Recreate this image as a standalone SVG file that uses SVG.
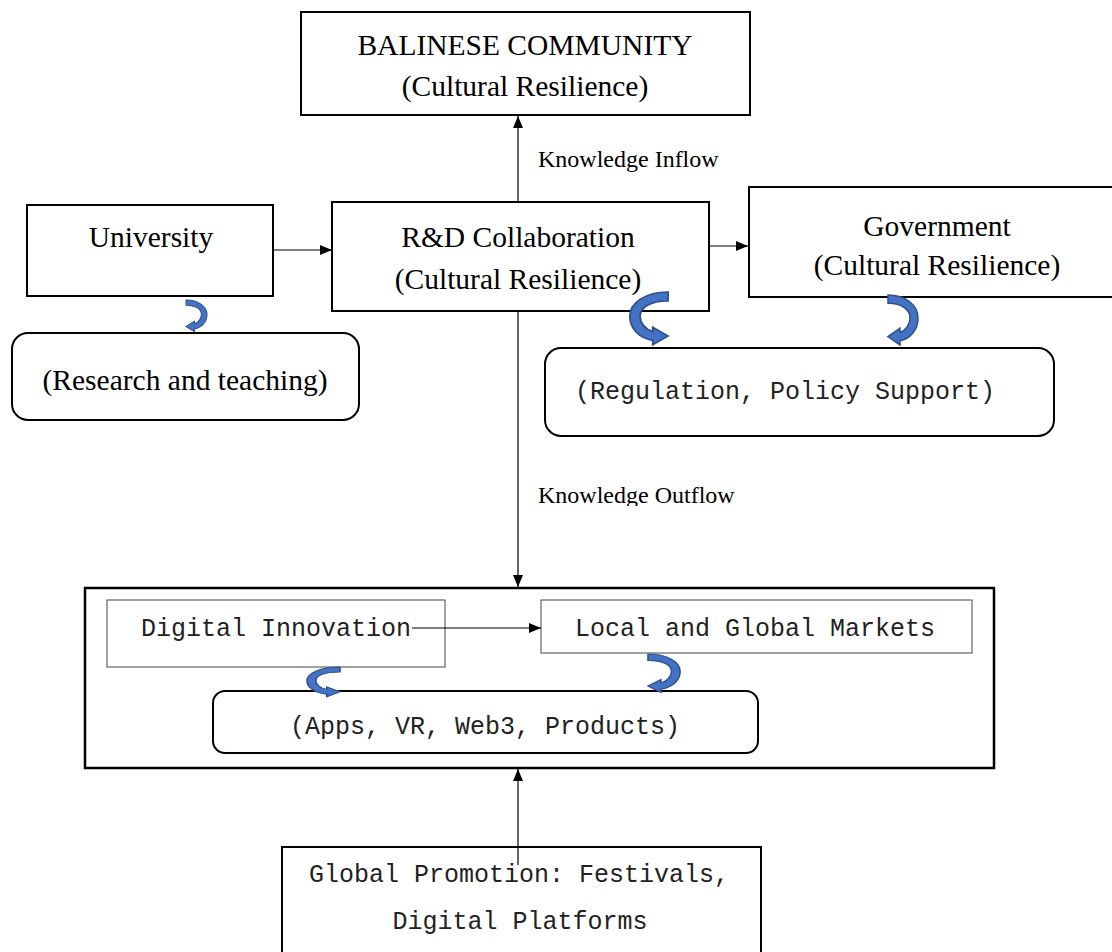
<svg xmlns="http://www.w3.org/2000/svg" width="1112" height="952" viewBox="0 0 1112 952">
<style>
.box{fill:#fff;stroke:#000;stroke-width:2}
.thin{fill:#fff;stroke:#444;stroke-width:1}
.big{fill:#fff;stroke:#000;stroke-width:2.5}
.serif{font-family:"Liberation Serif","Times New Roman",serif;fill:#000;text-anchor:middle;font-size:29.5px}
.mono{font-family:"Liberation Mono","Courier New",monospace;fill:#222;text-anchor:middle;font-size:25px}
.lbl{font-family:"Liberation Serif","Times New Roman",serif;fill:#000;font-size:24px}
.conn{stroke:#000;stroke-width:1.2;fill:none}
.curl{fill:#4472C4;stroke:#2F528F;stroke-width:1.5}
</style>
<defs>
<marker id="ah" viewBox="0 0 12 10" refX="12" refY="5" markerWidth="12" markerHeight="10" markerUnits="userSpaceOnUse" orient="auto">
<path d="M0 0 L12 5 L0 10 Z" fill="#000"/>
</marker>
<path id="curlshape" d="M0 0 C18 0 30 10 30 22 C30 34 22 42 12 44 L12 48 L0 40 L12 32 L12 36 C18 34 22 28 22 22 C22 14 14 8 0 8 Z"/>
<clipPath id="outclip"><rect x="530" y="470" width="240" height="36"/></clipPath>
</defs>

<g id="balinese">
<rect class="box" x="301" y="12" width="449" height="103"/>
<text class="serif" x="525" y="55">BALINESE COMMUNITY</text>
<text class="serif" x="525" y="96">(Cultural Resilience)</text>
</g>

<g id="university">
<rect class="box" x="27" y="205" width="246" height="91"/>
<text class="serif" x="151" y="247">University</text>
</g>

<g id="rnd">
<rect class="box" x="332" y="202" width="377" height="109"/>
<text class="serif" x="518" y="247">R&amp;D Collaboration</text>
<text class="serif" x="518" y="289">(Cultural Resilience)</text>
</g>

<g id="government">
<rect class="box" x="749" y="187" width="375" height="110"/>
<text class="serif" x="937" y="236">Government</text>
<text class="serif" x="937" y="275">(Cultural Resilience)</text>
</g>

<g id="research">
<rect class="box" x="12" y="333" width="347" height="87" rx="16"/>
<text class="serif" x="185" y="390">(Research and teaching)</text>
</g>

<g id="regulation">
<rect class="box" x="545" y="348" width="509" height="88" rx="16"/>
<text class="mono" x="785" y="399">(Regulation, Policy Support)</text>
</g>

<g id="innovation-system">
<rect class="big" x="85" y="588" width="909" height="180"/>
</g>

<g id="digital-innovation">
<rect class="thin" x="107" y="600" width="338" height="67"/>
<text class="mono" x="276" y="636">Digital Innovation</text>
</g>

<g id="markets">
<rect class="thin" x="541" y="600" width="431" height="53"/>
<text class="mono" x="755" y="636">Local and Global Markets</text>
</g>

<g id="apps">
<rect class="box" x="213" y="691" width="545" height="62" rx="12"/>
<text class="mono" x="485" y="734">(Apps, VR, Web3, Products)</text>
</g>

<g id="promotion">
<rect class="box" x="282" y="847" width="479" height="115"/>
<text class="mono" x="519" y="882">Global Promotion: Festivals,</text>
<text class="mono" x="520" y="929">Digital Platforms</text>
</g>

<g id="connectors">
<line class="conn" x1="273" y1="250" x2="332" y2="250" marker-end="url(#ah)"/>
<line class="conn" x1="709" y1="246" x2="748" y2="246" marker-end="url(#ah)"/>
<line class="conn" x1="518" y1="202" x2="518" y2="116" marker-end="url(#ah)"/>
<line class="conn" x1="518" y1="311" x2="518" y2="587" marker-end="url(#ah)"/>
<line class="conn" x1="518" y1="865" x2="518" y2="769" marker-end="url(#ah)"/>
<line class="conn" x1="412" y1="628" x2="541" y2="628" marker-end="url(#ah)"/>
<text class="lbl" x="538" y="167">Knowledge Inflow</text>
<text class="lbl" x="538" y="503" clip-path="url(#outclip)">Knowledge Outflow</text>
<use href="#curlshape" class="curl" transform="translate(186,300) scale(0.7,0.66)"/>
<use href="#curlshape" class="curl" transform="translate(668,292) scale(-1.27,1.1)"/>
<use href="#curlshape" class="curl" transform="translate(888,295) scale(1,1.04)"/>
<use href="#curlshape" class="curl" transform="translate(340,667) scale(-1.1,0.62)"/>
<use href="#curlshape" class="curl" transform="translate(648,654) scale(1.07,0.8)"/>
</g>
</svg>
